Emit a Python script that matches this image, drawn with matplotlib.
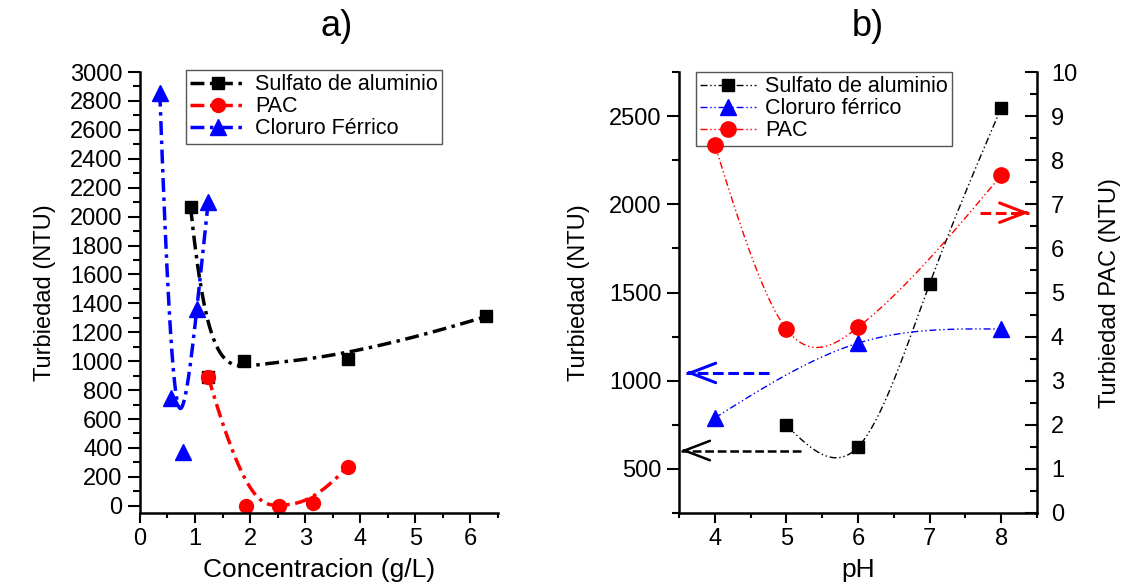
import numpy as np
import matplotlib.pyplot as plt
from matplotlib.ticker import MultipleLocator

plt.rcParams['font.family'] = ['Liberation Sans', 'DejaVu Sans']

# a) turbidity vs coagulant dose
conc_sulf = [0.92, 1.24, 1.88, 3.78, 6.29]
turb_sulf = [2064, 892, 1000, 1018, 1310]
conc_pac = [1.24, 1.92, 2.53, 3.15, 3.77]
turb_pac = [892, 0, 0, 18, 271]
conc_fe = [0.36, 0.56, 0.79, 1.03, 1.24]
turb_fe = [2857, 745, 375, 1363, 2103]

# b) turbidity vs pH (PAC on the right axis)
ph_sulf = [5, 6, 7, 8]
ph_turb_sulf = [747, 624, 1549, 2547]
ph_fe = [4, 6, 8]
ph_turb_fe = [789, 1213, 1293]
ph_pac = [4, 5, 6, 8]
ph_turb_pac = [8.35, 4.17, 4.21, 7.66]

# arrows telling which axis each curve belongs to: (tail x, tip x, y)
arrow_sulf = (5.2, 3.53, 604)
arrow_fe = (4.76, 3.6, 1044)
arrow_pac = (7.7, 8.39, 6.81)


def bspline(x, y, n=300, k=3):
    # clamped uniform B-spline using the points as control points
    P = np.column_stack([x, y]).astype(float)
    m = len(P)
    knots = np.concatenate([np.zeros(k), np.linspace(0, 1, m - k + 1), np.ones(k)])
    t = np.linspace(0, 1 - 1e-9, n)
    N = np.array([((knots[i] <= t) & (t < knots[i + 1])).astype(float)
                  for i in range(len(knots) - 1)])
    for d in range(1, k + 1):
        Nn = np.zeros((len(knots) - 1 - d, n))
        for i in range(len(knots) - 1 - d):
            den1 = knots[i + d] - knots[i]
            den2 = knots[i + d + 1] - knots[i + 1]
            a = (t - knots[i]) / den1 * N[i] if den1 > 0 else 0
            b = (knots[i + d + 1] - t) / den2 * N[i + 1] if den2 > 0 else 0
            Nn[i] = a + b
        N = Nn
    pts = N.T @ P
    return pts[:, 0], pts[:, 1]


def nat_spline(x, y, n=300):
    x = np.asarray(x, float)
    y = np.asarray(y, float)
    h = np.diff(x)
    m = len(x)
    A = np.zeros((m, m))
    r = np.zeros(m)
    A[0, 0] = A[-1, -1] = 1
    for i in range(1, m - 1):
        A[i, i - 1] = h[i - 1]
        A[i, i] = 2 * (h[i - 1] + h[i])
        A[i, i + 1] = h[i]
        r[i] = 6 * ((y[i + 1] - y[i]) / h[i] - (y[i] - y[i - 1]) / h[i - 1])
    M = np.linalg.solve(A, r)
    xs = np.linspace(x[0], x[-1], n)
    j = np.clip(np.searchsorted(x, xs) - 1, 0, m - 2)
    hj = h[j]
    d1 = x[j + 1] - xs
    d0 = xs - x[j]
    ys = (M[j] * d1**3 / (6 * hj) + M[j + 1] * d0**3 / (6 * hj)
          + (y[j] / hj - M[j] * hj / 6) * d1 + (y[j + 1] / hj - M[j + 1] * hj / 6) * d0)
    return xs, ys


fig = plt.figure(figsize=(11.36, 5.85), dpi=100)
axa = fig.add_axes([0.1232, 0.1231, 0.3152, 0.7538])
axb = fig.add_axes([0.5977, 0.1231, 0.3152, 0.7538])
axr = axb.twinx()

# ---- panel a
ls_a = (0, (4, 1.6, 1, 1.6))
series_a = [(conc_sulf, turb_sulf, 'k', 's', 9, 'Sulfato de aluminio'),
            (conc_pac, turb_pac, 'r', 'o', 10, 'PAC'),
            (conc_fe, turb_fe, 'b', '^', 11, 'Cloruro Férrico')]
hand_a = []
for x, y, c, m, ms, lab in series_a:
    xc, yc = bspline(x, y)
    ln, = axa.plot(xc, yc, color=c, lw=2.5, ls=ls_a)
    mk, = axa.plot(x, y, color=c, marker=m, ms=ms, ls='none')
    hand_a.append(((ln, mk), lab))

axa.set_xlim(0, 6.5)
axa.set_ylim(-50, 3000)
axa.xaxis.set_major_locator(MultipleLocator(1))
axa.xaxis.set_minor_locator(MultipleLocator(0.5))
axa.yaxis.set_major_locator(MultipleLocator(200))
axa.yaxis.set_minor_locator(MultipleLocator(100))
axa.spines['top'].set_visible(False)
axa.spines['right'].set_visible(False)
axa.set_xlabel('Concentracion (g/L)', fontsize=19, labelpad=6)
axa.set_ylabel('Turbiedad (NTU)', fontsize=17, labelpad=10)
axa.legend([h for h, l in hand_a], [l for h, l in hand_a], loc='upper left',
           bbox_to_anchor=(186 / 1136, 1 - 70 / 585), bbox_transform=fig.transFigure,
           fontsize=15.5, fancybox=False, edgecolor='#555555', framealpha=1,
           handlelength=2.6, labelspacing=0.05, borderpad=0.2, handletextpad=0.4,
           borderaxespad=0)

# ---- panel b
ls_b = (0, (5, 2, 1, 2, 1, 2))
hand_b = []
for ax, x, y, c, m, ms, lab in [(axb, ph_sulf, ph_turb_sulf, 'k', 's', 9, 'Sulfato de aluminio'),
                               (axb, ph_fe, ph_turb_fe, 'b', '^', 12, 'Cloruro férrico'),
                               (axr, ph_pac, ph_turb_pac, 'r', 'o', 11, 'PAC')]:
    xc, yc = nat_spline(x, y)
    ln, = ax.plot(xc, yc, color=c, lw=1, ls=ls_b)
    mk, = ax.plot(x, y, color=c, marker=m, ms=ms, ls='none')
    hand_b.append(((ln, mk), lab))

axb.set_xlim(3.5, 8.5)
axb.set_ylim(250, 2750)
axr.set_ylim(0, 10)
axb.xaxis.set_major_locator(MultipleLocator(1))
axb.xaxis.set_minor_locator(MultipleLocator(0.5))
axb.yaxis.set_major_locator(MultipleLocator(500))
axb.yaxis.set_minor_locator(MultipleLocator(250))
axr.yaxis.set_major_locator(MultipleLocator(1))
axr.yaxis.set_minor_locator(MultipleLocator(0.5))
axb.spines['top'].set_visible(False)
axb.spines['right'].set_visible(False)
for s in ['top', 'left', 'bottom']:
    axr.spines[s].set_visible(False)
axb.set_xlabel('pH', fontsize=19, labelpad=6)
axb.set_ylabel('Turbiedad (NTU)', fontsize=17, labelpad=14)
axr.set_ylabel('Turbiedad PAC (NTU)', fontsize=17, labelpad=16)
axb.legend([h for h, l in hand_b], [l for h, l in hand_b], loc='upper left',
           bbox_to_anchor=(696 / 1136, 1 - 72 / 585), bbox_transform=fig.transFigure,
           fontsize=15.5, fancybox=False, edgecolor='#555555', framealpha=1,
           handlelength=2.6, labelspacing=0.05, borderpad=0.2, handletextpad=0.4,
           borderaxespad=0)

# axis pointer arrows
for ax, (x0, x1, y), c, lw in [(axb, arrow_sulf, 'k', 1.8), (axb, arrow_fe, 'b', 2.2),
                               (axr, arrow_pac, 'r', 2.2)]:
    ax.plot([x0, x1], [y, y], color=c, lw=lw, ls=(0, (3.5, 1.5)))
    step = 0.05 if x1 > x0 else -0.05
    ax.annotate('', xy=(x1, y), xytext=(x1 - step, y),
                arrowprops=dict(arrowstyle='->,head_length=1.3,head_width=0.5',
                                color=c, lw=lw, shrinkA=0, shrinkB=0, mutation_scale=14))

# ticks and spines
for ax in [axa, axb, axr]:
    for s in ax.spines.values():
        s.set_linewidth(1.8)
    ax.tick_params(labelsize=17, width=1.5)
for ax in [axa, axb]:
    ax.tick_params(axis='y', which='major', direction='out', length=9)
    ax.tick_params(axis='y', which='minor', direction='out', length=5, width=1.5)
    ax.tick_params(axis='x', which='major', direction='out', length=7)
    ax.tick_params(axis='x', which='minor', direction='out', length=3.5, width=1.5)
axr.tick_params(axis='y', which='major', direction='in', length=9, pad=10)
axr.tick_params(axis='y', which='minor', direction='in', length=5, width=1.5)

fig.text(337 / 1136, 1 - 27 / 585, 'a)', fontsize=26, ha='center', va='center')
fig.text(868 / 1136, 1 - 27 / 585, 'b)', fontsize=26, ha='center', va='center')

fig.savefig('out.png', dpi=100)
